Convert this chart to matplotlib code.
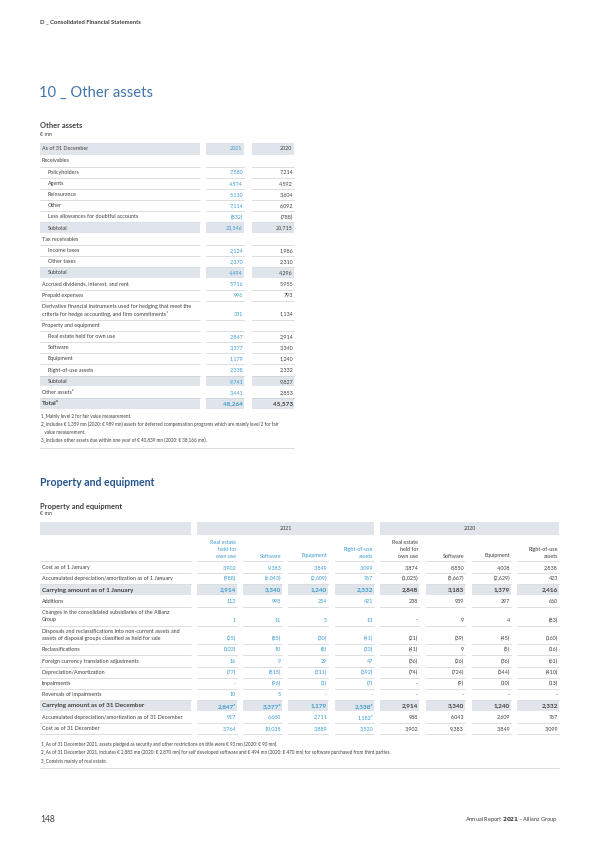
import matplotlib
matplotlib.use("Agg")
import matplotlib.pyplot as plt
from matplotlib.patches import Rectangle

plt.rcParams["font.family"] = ["Lato", "DejaVu Sans"]

# Colours
TEXT = "#3f3f3f"
BLUE = "#3a9bcf"
NAVY = "#24538c"
TITLE = "#4273aa"
BAND = "#dfe5ea"
RULE = "#cdd2d6"

# ---- Other assets table -------------------------------------------------
OA_YEARS = ["2021", "2020"]
OA_LABELS = [
    "Receivables",
    "Policyholders",
    "Agents",
    "Reinsurance",
    "Other",
    "Less allowances for doubtful accounts",
    "Subtotal",
    "Tax receivables",
    "Income taxes",
    "Other taxes",
    "Subtotal",
    "Accrued dividends, interest, and rent",
    "Prepaid expenses",
    "Derivative financial instruments used for hedging that meet the\ncriteria for hedge accounting, and firm commitments¹",
    "Property and equipment",
    "Real estate held for own use",
    "Software",
    "Equipment",
    "Right-of-use assets",
    "Subtotal",
    "Other assets²",
    "Total³",
]
OA_2021 = [None, 7580, 4574, 5110, 7114, -832, 23546, None, 2124, 2370, 4494,
           5716, 996, 331, None, 2847, 3377, 1179, 2338, 9741, 3441, 48264]
OA_2020 = [None, 7214, 4592, 3604, 6092, -788, 20715, None, 1986, 2310, 4296,
           5955, 793, 1134, None, 2914, 3340, 1240, 2332, 9827, 2853, 45573]
OA_SECTIONS = {0, 7, 14}
OA_INDENT = {1, 2, 3, 4, 5, 6, 8, 9, 10, 15, 16, 17, 18, 19}
OA_SUBTOTAL = {6, 10, 19}
OA_TOTAL = 21
OA_NOTES = [
    "1_Mainly level 2 for fair value measurement.",
    "2_Includes € 1,359 mn (2020: € 989 mn) assets for deferred compensation programs which are mainly level 2 for fair",
    "   value measurement.",
    "3_Includes other assets due within one year of € 40,839 mn (2020: € 38,166 mn).",
]

# ---- Property and equipment table ---------------------------------------
PE_YEARS = ["2021", "2020"]
PE_COLS = ["Real estate\nheld for\nown use", "Software", "Equipment", "Right-of-use\nassets"]
PE_LABELS = [
    "Cost as of 1 January",
    "Accumulated depreciation/amortization as of 1 January",
    "Carrying amount as of 1 January",
    "Additions",
    "Changes in the consolidated subsidiaries of the Allianz\nGroup",
    "Disposals and reclassifications into non-current assets and\nassets of disposal groups classified as held for sale",
    "Reclassifications",
    "Foreign currency translation adjustments",
    "Depreciation/Amortization",
    "Impairments",
    "Reversals of impairments",
    "Carrying amount as of 31 December",
    "Accumulated depreciation/amortization as of 31 December",
    "Cost as of 31 December",
]
PE_2021 = [
    [3902, 9383, 3849, 3099],
    [-988, -6043, -2609, 767],
    [2914, 3340, 1240, 2332],
    [112, 998, 254, 421],
    [1, 11, 5, 13],
    [-25, -85, -30, -41],
    [-103, 10, -8, -33],
    [16, 9, 29, 47],
    [-77, -815, -311, -392],
    [None, -96, -1, -7],
    [10, 5, None, None],
    [2847, 3377, 1179, 2338],
    [917, 6660, 2711, 1182],
    [3764, 10038, 3889, 3520],
]
PE_2020 = [
    [3874, 8850, 4008, 2838],
    [-1025, -5667, -2629, 423],
    [2848, 3183, 1379, 2416],
    [238, 939, 297, 660],
    [None, 9, 4, -83],
    [-21, -39, -45, -160],
    [-41, 9, -5, -16],
    [-36, -26, -36, -61],
    [-74, -724, -344, -410],
    [None, -9, -10, -13],
    [None, None, None, None],
    [2914, 3340, 1240, 2332],
    [988, 6043, 2609, 767],
    [3902, 9383, 3849, 3099],
]
PE_MARKS = {(11, 0): "¹", (11, 1): "²", (11, 3): "³", (12, 3): "³"}
PE_BOLD = {2, 11}
PE_NOTES = [
    "1_As of 31 December 2021, assets pledged as security and other restrictions on title were € 93 mn (2020: € 90 mn).",
    "2_As of 31 December 2021, includes € 2,883 mn (2020: € 2,870 mn) for self developed software and € 494 mn (2020: € 470 mn) for software purchased from third parties.",
    "3_Consists mainly of real estate.",
]

# Layout
ROW_H = 11.2
LINE_H = 7.5
FS = 3.9
NOTE_FS = 3.3


def fmt(v):
    if v is None:
        return "-"
    if v < 0:
        return f"({abs(v):,})"
    return f"{v:,}"


fig = plt.figure(figsize=(6, 8.48), dpi=100)
ax = fig.add_axes([0, 0, 1, 1])
ax.set_xlim(0, 600)
ax.set_ylim(848, 0)
ax.axis("off")


def band(x0, x1, yc, h=10.2):
    ax.add_patch(Rectangle((x0, yc - h / 2), x1 - x0, h, color=BAND, lw=0, zorder=0))


def rule(x0, x1, y):
    ax.plot([x0, x1], [y, y], color=RULE, lw=0.5, zorder=1)


def label_text(x, y_first, y_last, label, fs, weight):
    # multi-line labels are centred between their first and last line
    ax.text(x, (y_first + y_last) / 2, label, fontsize=fs, color=TEXT, va="center",
            fontweight=weight, linespacing=1.45)


# page header / titles
ax.text(40, 22, "D _ Consolidated Financial Statements", fontsize=4.2, fontweight="bold",
        color=TEXT, va="center")
ax.text(39, 93, "10 _ Other assets", fontsize=10.6, fontweight="normal", color=TITLE, va="center")
ax.text(40, 126, "Other assets", fontsize=5.4, fontweight="bold", color=TEXT, va="center")
ax.text(40, 134.5, "€ mn", fontsize=FS, color=TEXT, va="center")

# ---- Table 1
lab = (40, 200)
cols1 = [(206, 244), (252, 294)]
y = 148.7
band(*lab, y, 12)
for (c0, c1), yr, col in zip(cols1, OA_YEARS, [BLUE, TEXT]):
    band(c0, c1, y, 12)
    ax.text(c1 - 1.5, y, yr, fontsize=FS, color=col, va="center", ha="right")
ax.text(41.5, y, "As of 31 December", fontsize=FS, color=TEXT, va="center")
y += 12.3
for i, label in enumerate(OA_LABELS):
    nlines = label.count("\n") + 1
    yv = y + (nlines - 1) * LINE_H
    x = 48 if i in OA_INDENT else 41.5
    if i in OA_SUBTOTAL or i == OA_TOTAL:
        h = 11.6 if i == OA_TOTAL else 10.2
        band(*lab, yv, h)
        for c0, c1 in cols1:
            band(c0, c1, yv, h)
    else:
        rule(*lab, yv + 5.5)
        for c0, c1 in cols1:
            rule(c0, c1, yv + 5.5)
    bold = "bold" if i == OA_TOTAL else "normal"
    fs = 4.6 if i == OA_TOTAL else FS
    label_text(x, y, yv, label, fs, bold)
    if i not in OA_SECTIONS:
        ax.text(cols1[0][1] - 1, yv, fmt(OA_2021[i]), fontsize=fs, color=BLUE, va="center",
                ha="right", fontweight=bold)
        ax.text(cols1[1][1] - 1, yv, fmt(OA_2020[i]), fontsize=fs, color=TEXT, va="center",
                ha="right", fontweight=bold)
    y = yv + ROW_H
y = y + 1.4
for note in OA_NOTES:
    ax.text(41, y, note, fontsize=NOTE_FS, color=TEXT, va="center")
    y += 8.1
rule(40, 294, y - 0.8)

# ---- Property and equipment
ax.text(40, 482.7, "Property and equipment", fontsize=7.6, fontweight="bold", color=NAVY, va="center")
ax.text(40, 506.7, "Property and equipment", fontsize=5.4, fontweight="bold", color=TEXT, va="center")
ax.text(40, 513.5, "€ mn", fontsize=FS, color=TEXT, va="center")

lab2 = (40, 191)
col_starts = [197, 243, 288, 335, 380, 426, 472, 517]
col_ends = [237, 282, 328, 374, 419, 465, 511, 559]
cols2 = list(zip(col_starts, col_ends))
y = 528.7
band(*lab2, y, 12.6)
band(cols2[0][0], cols2[3][1], y, 12.6)
band(cols2[4][0], cols2[7][1], y, 12.6)
ax.text((cols2[0][0] + cols2[3][1]) / 2, y, PE_YEARS[0], fontsize=FS, color=TEXT, ha="center", va="center")
ax.text((cols2[4][0] + cols2[7][1]) / 2, y, PE_YEARS[1], fontsize=FS, color=TEXT, ha="center", va="center")

y_head = 556.3
for k, (c0, c1) in enumerate(cols2):
    name = PE_COLS[k % 4]
    col = BLUE if k < 4 else TEXT
    ax.text(c1 - 1, y_head + 2.2, name, fontsize=FS, color=col, ha="right", va="bottom",
            multialignment="right", linespacing=1.45)
    rule(c0, c1, y_head + 4.4)
rule(*lab2, y_head + 4.4)

y = 567.7
for i, label in enumerate(PE_LABELS):
    nlines = label.count("\n") + 1
    yv = y + (nlines - 1) * LINE_H
    bold = "bold" if i in PE_BOLD else "normal"
    fs = 4.6 if i in PE_BOLD else FS
    if i in PE_BOLD:
        band(*lab2, yv, 10.6)
        for c0, c1 in cols2:
            band(c0, c1, yv, 10.6)
    else:
        rule(*lab2, yv + 5.5)
        for c0, c1 in cols2:
            rule(c0, c1, yv + 5.5)
    label_text(41.5, y, yv, label, fs, bold)
    values = PE_2021[i] + PE_2020[i]
    for k, v in enumerate(values):
        txt = fmt(v) + PE_MARKS.get((i, k), "")
        col = BLUE if k < 4 else TEXT
        ax.text(cols2[k][1] - 1, yv, txt, fontsize=fs, color=col, va="center", ha="right",
                fontweight=bold)
    y = yv + ROW_H

y = 744
for note in PE_NOTES:
    ax.text(41, y, note, fontsize=NOTE_FS, color=TEXT, va="center")
    y += 8.5
rule(40, 559, 768.3)

# footer
ax.text(40, 819.5, "148", fontsize=6.2, color=TEXT, va="center")
ax.text(557.5, 820, "Annual Report $\\bf{2021}$ - Allianz Group", fontsize=4.1, color=TEXT,
        va="center", ha="right")

fig.savefig("out.png", dpi=100)
